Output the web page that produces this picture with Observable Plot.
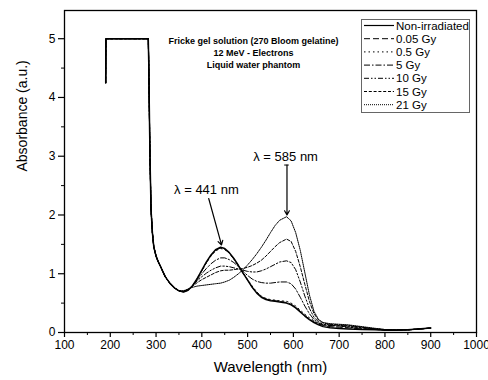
<!DOCTYPE html>
<html><head><meta charset="utf-8">
<script src="https://cdn.jsdelivr.net/npm/d3@7"></script>
<script src="https://cdn.jsdelivr.net/npm/@observablehq/plot@0.6"></script>
<style>
body{margin:0;background:#fff;font-family:"Liberation Sans",Arial,sans-serif;}
#wrap{position:relative;width:488px;height:380px;}
#legend{position:absolute;left:0;top:0;}
</style></head>
<body><div id="wrap"></div>
<script>
// UV part, shared by all series (saturated detector region)
const uvWavelength = [190,190.5,283,284,285,286,287,289,292,295,300,305,310,320,330,340,350];
const uvAbsorbance = [4.25,5,5,4.6,4.0,3.4,2.9,2.1,1.7,1.46,1.3,1.2,1.12,0.95,0.84,0.76,0.71];
// visible part
const wavelength = [360,370,380,390,400,410,420,430,441,450,460,470,480,490,500,510,520,530,540,550,560,570,585,595,605,615,625,635,645,655,665,680,700,720,750,780,800,820,850,900];
const seriesNames = ["Non-irradiated","0.05 Gy","0.5 Gy","5 Gy","10 Gy","15 Gy","21 Gy"];
const absNon  = [0.69,0.72,0.80,0.92,1.06,1.20,1.32,1.41,1.45,1.43,1.36,1.26,1.14,1.01,0.89,0.77,0.67,0.60,0.56,0.54,0.53,0.52,0.50,0.47,0.42,0.35,0.28,0.22,0.17,0.13,0.10,0.08,0.07,0.06,0.05,0.045,0.04,0.04,0.045,0.075];
const abs005  = [0.70,0.72,0.80,0.92,1.05,1.19,1.31,1.40,1.44,1.42,1.35,1.25,1.13,1.01,0.89,0.77,0.68,0.61,0.57,0.55,0.54,0.53,0.51,0.48,0.43,0.36,0.29,0.23,0.18,0.14,0.12,0.10,0.09,0.08,0.06,0.05,0.045,0.04,0.045,0.075];
const abs05   = [0.70,0.73,0.80,0.92,1.05,1.19,1.30,1.39,1.43,1.41,1.35,1.25,1.14,1.02,0.90,0.79,0.69,0.62,0.58,0.56,0.55,0.54,0.53,0.50,0.45,0.38,0.31,0.25,0.20,0.15,0.13,0.12,0.11,0.09,0.07,0.05,0.045,0.04,0.045,0.075];
const abs5    = [0.69,0.72,0.80,0.90,1.00,1.09,1.17,1.23,1.27,1.27,1.24,1.19,1.12,1.04,0.97,0.91,0.87,0.85,0.84,0.84,0.85,0.86,0.86,0.83,0.74,0.60,0.45,0.32,0.22,0.16,0.13,0.12,0.11,0.10,0.08,0.06,0.05,0.045,0.045,0.075];
const abs10   = [0.70,0.73,0.80,0.88,0.95,1.01,1.06,1.10,1.13,1.13,1.12,1.10,1.08,1.06,1.04,1.03,1.03,1.05,1.08,1.12,1.16,1.20,1.22,1.19,1.07,0.86,0.62,0.41,0.26,0.18,0.14,0.13,0.12,0.11,0.09,0.06,0.05,0.045,0.045,0.075];
const abs15   = [0.70,0.73,0.79,0.85,0.90,0.94,0.98,1.02,1.05,1.06,1.06,1.07,1.08,1.09,1.11,1.14,1.18,1.23,1.30,1.38,1.46,1.53,1.59,1.55,1.38,1.12,0.82,0.53,0.32,0.21,0.16,0.14,0.13,0.12,0.09,0.06,0.05,0.045,0.045,0.075];
const abs21   = [0.71,0.74,0.77,0.79,0.80,0.81,0.82,0.83,0.84,0.86,0.89,0.94,1.00,1.07,1.15,1.24,1.34,1.45,1.57,1.70,1.82,1.91,1.97,1.90,1.70,1.40,1.02,0.64,0.36,0.22,0.17,0.15,0.14,0.13,0.10,0.07,0.05,0.045,0.045,0.075];
const xTicks = [100,200,300,400,500,600,700,800,900,1000];
const xMinor = [150,250,350,450,550,650,750,850,950];
const yTicks = [0,1,2,3,4,5];
const yMinor = [0.5,1.5,2.5,3.5,4.5];
const titleLines = ["Fricke gel solution (270 Bloom gelatine)","12 MeV - Electrons","Liquid water phantom"];
const annotations = [{text:"λ = 441 nm", x:410, y:2.43},{text:"λ = 585 nm", x:583, y:2.99}];

const allSeries = [absNon,abs005,abs05,abs5,abs10,abs15,abs21];
const dashes = [null,"6,3","1.5,3","6,2,1.5,2","5,2,1.5,2,1.5,2","3,1.8","1,1"];
const widths = [1.5,1,1,1,1,1,1];

const lineMarks = allSeries.map((vals,i) => {
  const data = uvWavelength.map((w,j)=>({w, a:uvAbsorbance[j]}))
    .concat(wavelength.map((w,j)=>({w, a:vals[j]})));
  return Plot.line(data, {x:"w", y:"a", stroke:"#000", strokeWidth:widths[i], strokeDasharray:dashes[i]});
});

const chart = Plot.plot({
  width:488, height:380,
  marginLeft:64, marginRight:12, marginTop:10, marginBottom:48,
  style:{fontFamily:"Liberation Sans, Arial, sans-serif", background:"transparent"},
  x:{type:"linear", domain:[100,1000]},
  y:{type:"linear", domain:[0,5.48]},
  marks:[
    Plot.frame({stroke:"#000", strokeWidth:1.3}),
    Plot.axisX({ticks:xTicks, tickSize:5, tickPadding:3, fontSize:12, label:null, tickFormat:d=>String(d), stroke:"#000", strokeWidth:1.2}),
    Plot.axisX({ticks:xMinor, tickSize:3, tickFormat:()=>"", label:null, stroke:"#000"}),
    Plot.axisY({ticks:yTicks, tickSize:6, tickPadding:3, fontSize:12, label:null, tickFormat:d=>String(d), stroke:"#000", strokeWidth:1.2}),
    Plot.axisY({ticks:yMinor, tickSize:3, tickFormat:()=>"", label:null, stroke:"#000"}),
    ...lineMarks,
    Plot.text(["Wavelength (nm)"], {frameAnchor:"bottom", dy:39, fontSize:15, text:d=>d, fill:"#000"}),
    Plot.text(["Absorbance (a.u.)"], {frameAnchor:"left", dx:-42, rotate:-90, fontSize:14, text:d=>d, fill:"#000"}),
    Plot.text(titleLines, {x:513, y:(d,i)=>4.96 - i*0.205, text:d=>d, fontSize:9, fontWeight:"bold", fill:"#000"}),
    Plot.text(annotations, {x:"x", y:"y", text:"text", fontSize:13, fill:"#000"}),
    Plot.arrow([{x1:415,y1:2.28,x2:443,y2:1.49}], {x1:"x1",y1:"y1",x2:"x2",y2:"y2", stroke:"#000", strokeWidth:1.2, headLength:6}),
    Plot.arrow([{x1:586,y1:2.85,x2:586,y2:2.0}], {x1:"x1",y1:"y1",x2:"x2",y2:"y2", stroke:"#000", strokeWidth:1.2, headLength:6}),
    Plot.ruleY([{y:2.85, x1:581, x2:591}], {y:"y", x1:"x1", x2:"x2", stroke:"#000"})
  ]
});
document.getElementById("wrap").appendChild(chart);

// legend
const lg = d3.select("#wrap").append("svg").attr("id","legend").attr("width",488).attr("height",380);
lg.append("rect").attr("x",361.5).attr("y",19.5).attr("width",108).attr("height",93)
  .attr("fill","#fff").attr("stroke","#666").attr("stroke-width",1);
seriesNames.forEach((name,i)=>{
  const y = 25.5 + i*13.2;
  lg.append("line").attr("x1",364).attr("x2",394).attr("y1",y).attr("y2",y)
    .attr("stroke","#000").attr("stroke-width",widths[i]===1.5?1.2:1)
    .attr("stroke-dasharray",dashes[i]);
  lg.append("text").attr("x",396).attr("y",y).attr("dy","0.35em")
    .attr("font-size",11.5).attr("font-family","Liberation Sans, Arial, sans-serif").text(name);
});
</script></body></html>
